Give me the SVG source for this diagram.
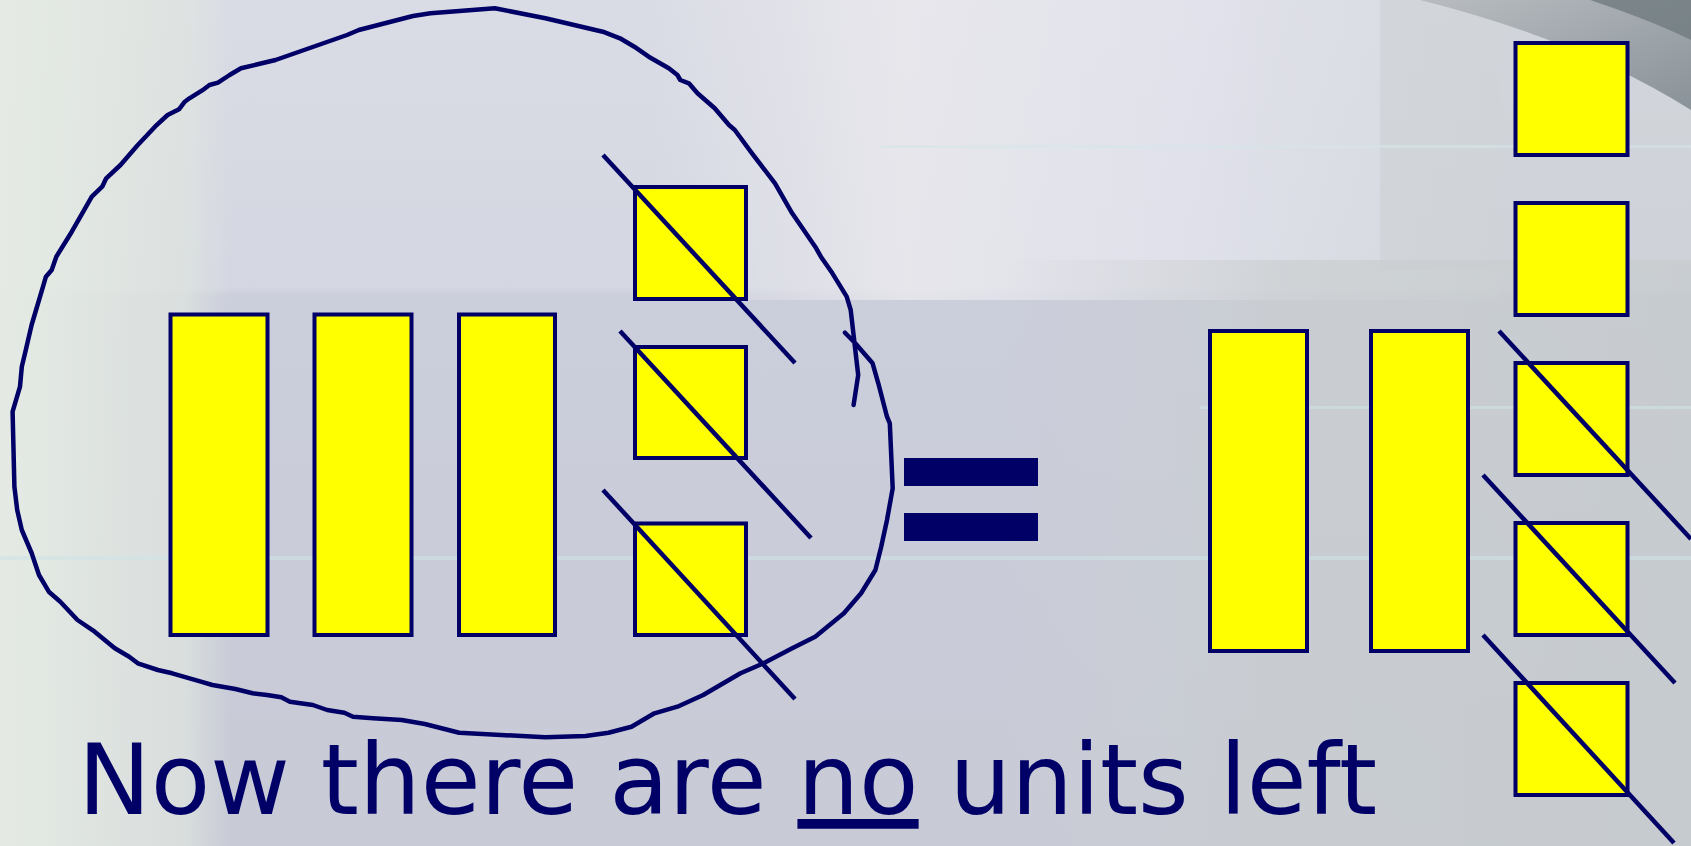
<svg xmlns="http://www.w3.org/2000/svg" width="1691" height="846" viewBox="0 0 1691 846">
<style>
.blk{fill:#ffff00;stroke:#000066;stroke-width:4}
.cut{stroke:#000066;stroke-width:4.5;fill:none}
.eq{fill:#000066}
.lbl{font-family:"DejaVu Sans",Verdana,sans-serif;font-size:97.3px;fill:#000066}
</style>
<defs>
<linearGradient id="bgv" x1="0" y1="0" x2="0" y2="1">
<stop offset="0" stop-color="#dadce5"/>
<stop offset="0.34" stop-color="#d4d7e1"/>
<stop offset="0.35" stop-color="#cbcedb"/>
<stop offset="1" stop-color="#c8cbd6"/>
</linearGradient>
<linearGradient id="bgl" x1="0" y1="0" x2="1" y2="0">
<stop offset="0" stop-color="#e6ece4" stop-opacity="0.95"/>
<stop offset="0.8" stop-color="#e0e6e0" stop-opacity="0.7"/>
<stop offset="1" stop-color="#dfe5e0" stop-opacity="0"/>
</linearGradient>
<linearGradient id="bgr" x1="0" y1="0" x2="1" y2="0">
<stop offset="0" stop-color="#cdd0d2" stop-opacity="0"/>
<stop offset="0.4" stop-color="#c8cdcd" stop-opacity="0.6"/>
<stop offset="1" stop-color="#c6cbce" stop-opacity="0.8"/>
</linearGradient>
<linearGradient id="bgt" x1="0" y1="0" x2="1" y2="0">
<stop offset="0" stop-color="#ecebef" stop-opacity="0"/>
<stop offset="0.3" stop-color="#ecebef" stop-opacity="0.75"/>
<stop offset="0.65" stop-color="#e6e6ef" stop-opacity="0.6"/>
<stop offset="1" stop-color="#d6dadc" stop-opacity="0.4"/>
</linearGradient>
<linearGradient id="arc" x1="0" y1="0" x2="1" y2="1">
<stop offset="0" stop-color="#b4b8bd"/>
<stop offset="1" stop-color="#7d878d"/>
</linearGradient>
</defs>
<g id="background">
<rect x="0" y="0" width="1691" height="846" fill="url(#bgv)"/>
<rect x="650" y="0" width="850" height="300" fill="url(#bgt)"/>
<rect x="0" y="0" width="230" height="846" fill="url(#bgl)"/>
<rect x="1000" y="260" width="691" height="586" fill="url(#bgr)"/>
<rect x="1380" y="0" width="311" height="270" fill="#c9cdd0" opacity="0.5"/>
<path d="M1420,0 Q1580,40 1691,110 L1691,0 Z" fill="url(#arc)" opacity="0.85"/>
<path d="M1590,0 Q1650,20 1691,40 L1691,0 Z" fill="#6f7a80" opacity="0.8"/>
<rect x="0" y="556" width="1691" height="4" fill="#cfe2e6" opacity="0.6"/>
<rect x="1200" y="406" width="491" height="3" fill="#cfe2e6" opacity="0.6"/>
<rect x="880" y="145" width="811" height="3" fill="#d6e6ea" opacity="0.6"/>
</g>
<g id="left-ten-1"><rect class="blk" x="170.5" y="314.5" width="97" height="320.5"/></g>
<g id="left-ten-2"><rect class="blk" x="314.5" y="314.5" width="97" height="320.5"/></g>
<g id="left-ten-3"><rect class="blk" x="459" y="314.5" width="96" height="320.5"/></g>
<g id="left-unit-1"><rect class="blk" x="635" y="187" width="111" height="112"/></g>
<g id="left-unit-2"><rect class="blk" x="635" y="347" width="111" height="111"/></g>
<g id="left-unit-3"><rect class="blk" x="635" y="523.5" width="111" height="111.5"/></g>
<g id="equals">
<rect class="eq" x="904" y="458" width="134" height="28"/>
<rect class="eq" x="904" y="513" width="134" height="28"/>
</g>
<g id="right-ten-1"><rect class="blk" x="1210" y="331" width="97" height="320"/></g>
<g id="right-ten-2"><rect class="blk" x="1371" y="331" width="97" height="320"/></g>
<g id="right-unit-1"><rect class="blk" x="1515.5" y="43" width="112" height="112"/></g>
<g id="right-unit-2"><rect class="blk" x="1515.5" y="203" width="112" height="112"/></g>
<g id="right-unit-3"><rect class="blk" x="1515.5" y="363" width="112" height="112"/></g>
<g id="right-unit-4"><rect class="blk" x="1515.5" y="523" width="112" height="112"/></g>
<g id="right-unit-5"><rect class="blk" x="1515.5" y="683" width="112" height="112"/></g>
<g id="connectors">
<polyline class="cut" stroke-width="4" stroke-linejoin="round" stroke-linecap="round" points="853.6,405 858.2,375 855.3,350 850.7,310 846.7,296.7 832.4,273.3 820.9,256.7 815.2,246.7 792.2,213.3 775,183.3 752,153.3 734.8,130 729,125 714.7,108.3 697.5,93.3 688.9,83.3 680.3,80 677.4,75 668.8,68.3 648.7,56.7 634.3,46.7 620,38.3 602.8,31.7 545.4,18.3 494.8,8.3 430.5,13.3 413,16 358.8,30 347,35 275.5,60 241,68.3 229.6,75 218,82.7 209.5,85 203.8,89.3 189.4,98.3 184.8,101.7 179,109.3 167.6,115 155,126.7 137.8,145 120.5,165 106.2,178.3 102.2,186.7 91.8,196.7 86.1,206.7 71.8,231.7 56.3,256.7 51.7,270 45.9,276.7 43,286.7 31.6,325 25.8,350 21.8,366.7 20,386.7 12.6,411.7 14.4,486.7 17.2,510 21.8,530 31.6,553 39,575 48.8,591.7 60.3,601.7 77.5,620 94.7,631.7 114.8,648.3 129.2,656.7 137.8,663.3 157.9,670 172.2,673.3 200.9,681.7 212.4,685 235.4,689 252.6,693.3 267,695 281.3,697.3 289.9,701.7 312.9,705 327.2,710 344.4,712.7 353,716.7 373.1,718.3 401.8,720 424.8,724 459.2,732.7 545.4,737.3 585.5,736 608.5,732.7 631.5,726.7 654.4,713.3 677.4,706.7 703.2,695 723.3,683.3 740.5,673.3 763.5,663.3 792.2,648.3 815.2,636.7 843.9,613.3 861.1,593.3 875.4,570 881.2,546.7 887,520 892.7,488.3 889.8,423.3 887,416.7 878.3,383.3 872.6,363.3 855.3,343.3 845,332.7"/>
<line class="cut" x1="603" y1="155" x2="795" y2="363"/>
<line class="cut" x1="620" y1="331" x2="811" y2="538"/>
<line class="cut" x1="603" y1="490" x2="795" y2="699"/>
<line class="cut" x1="1499" y1="331" x2="1691" y2="539"/>
<line class="cut" x1="1483" y1="475" x2="1675" y2="683"/>
<line class="cut" x1="1483" y1="635" x2="1674" y2="843"/>
</g>
<g id="caption">
<text class="lbl" x="78" y="814">Now there are <tspan text-decoration="underline">no</tspan> units left</text>
</g>
</svg>
